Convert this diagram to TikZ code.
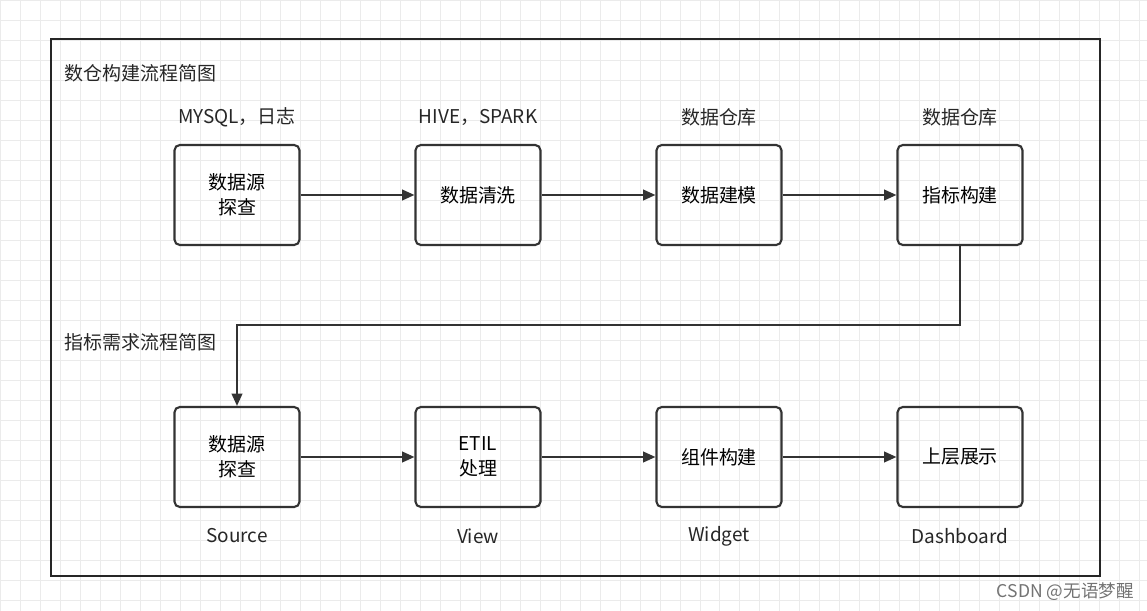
\documentclass[tikz,border=0pt]{standalone}
\usepackage{fontspec}
\setmainfont{Noto Sans CJK SC}
\usetikzlibrary{arrows.meta}
\begin{document}
\begin{tikzpicture}[x=0.02cm,y=-0.02cm,
  box/.style={rectangle, draw=black!80, line width=1.2pt, rounded corners=3pt, minimum width=2.5cm, minimum height=2cm, align=center, font=\fontsize{10.8}{14}\selectfont},
  lbl/.style={font=\fontsize{10.8}{13}\selectfont, text=black!85},
  link/.style={-{Triangle[length=7pt,width=6pt]}, line width=1.2pt, draw=black!80}]
  % Background grid
  \useasboundingbox (0,0) rectangle (1147,611);
  \draw[black!8, step=0.4cm] (0,0) grid (1147,611);
  \node (frame) [rectangle, draw=black!85, line width=1.3pt, minimum width=20.98cm, minimum height=10.74cm] at (575.5,307.5) {};
  % Titles
  \node (t-build) [lbl, anchor=west] at (58,73) {数仓构建流程简图};
  \node (t-req) [lbl, anchor=west] at (58,342) {指标需求流程简图};
  % Nodes
  \node (s-1) [box] at (237,195) {数据源\\探查};
  \node (s-2) [box] at (478,195) {数据清洗};
  \node (s-3) [box] at (719,195) {数据建模};
  \node (s-4) [box] at (960,195) {指标构建};
  \node (r-1) [box] at (237,457) {数据源\\探查};
  \node (r-2) [box] at (478,457) {ETIL\\处理};
  \node (r-3) [box] at (719,457) {组件构建};
  \node (r-4) [box] at (960,457) {上层展示};
  % Labels
  \node (l-1) [lbl] at (237,117) {MYSQL，日志};
  \node (l-2) [lbl] at (478,117) {HIVE，SPARK};
  \node (l-3) [lbl] at (719,117) {数据仓库};
  \node (l-4) [lbl] at (960,117) {数据仓库};
  \node (b-1) [lbl] at (237,536) {Source};
  \node (b-2) [lbl] at (478,536) {View};
  \node (b-3) [lbl] at (719,536) {Widget};
  \node (b-4) [lbl] at (960,536) {Dashboard};
  \node (mark) [font=\fontsize{10}{12}\selectfont, text=black!55, anchor=east] at (1140,592) {CSDN @无语梦醒};
  % Arrows
  \draw[link] (s-1) -- (s-2);
  \draw[link] (s-2) -- (s-3);
  \draw[link] (s-3) -- (s-4);
  \draw[link] (s-4.south) |- (600,325) -| (r-1.north);
  \draw[link] (r-1) -- (r-2);
  \draw[link] (r-2) -- (r-3);
  \draw[link] (r-3) -- (r-4);
\end{tikzpicture}
\end{document}
